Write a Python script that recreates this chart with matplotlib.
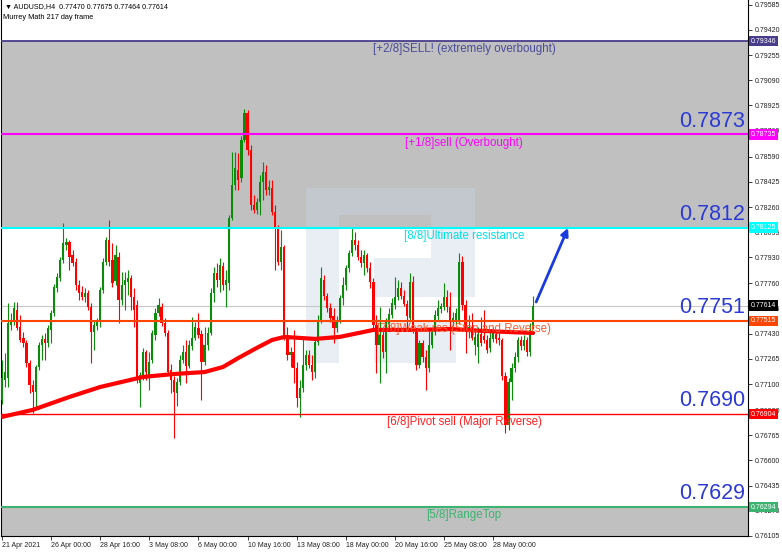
import matplotlib
matplotlib.use('Agg')
import matplotlib.pyplot as plt
import matplotlib.transforms as mtransforms
from matplotlib.patches import Rectangle
import numpy as np

plt.rcParams['font.family'] = ['Liberation Sans', 'DejaVu Sans']

symbol_info = 'AUDUSD,H4  0.77470 0.77675 0.77464 0.77614'
indicator_name = 'Murrey Math 217 day frame'

# AUDUSD H4 candles, 21 Apr 2021 .. 1 Jun 2021
opens = [
    0.76996, 0.77127, 0.77140, 0.77487, 0.77520, 0.77586, 0.77474, 0.77402, 0.77369, 0.77238,
    0.77094, 0.77048, 0.77212, 0.77356, 0.77396, 0.77369, 0.77455, 0.77566, 0.77730, 0.77795,
    0.77913, 0.78011, 0.78031, 0.77946, 0.77900, 0.77749, 0.77703, 0.77671, 0.77697, 0.77605,
    0.77441, 0.77481, 0.77507, 0.77717, 0.77900, 0.78044, 0.77913, 0.77775, 0.77933, 0.77651,
    0.77749, 0.77769, 0.77795, 0.77671, 0.77618, 0.77107, 0.77147, 0.77310, 0.77153, 0.77258,
    0.77422, 0.77566, 0.77605, 0.77500, 0.77435, 0.77193, 0.77127, 0.77042, 0.77114, 0.77258,
    0.77310, 0.77219, 0.77350, 0.77402, 0.77468, 0.77428, 0.77245, 0.77356, 0.77435, 0.77697,
    0.77828, 0.77782, 0.77874, 0.77749, 0.77762, 0.78188, 0.78404, 0.78503, 0.78450, 0.78699,
    0.78876, 0.78634, 0.78273, 0.78241, 0.78293, 0.78424, 0.78489, 0.78372, 0.78385, 0.78227,
    0.78123, 0.77900, 0.77998, 0.77422, 0.77291, 0.77310, 0.77206, 0.77009, 0.77075, 0.77225,
    0.77291, 0.77225, 0.77179, 0.77376, 0.77520, 0.77782, 0.77677, 0.77599, 0.77546, 0.77468,
    0.77520, 0.77664, 0.77749, 0.77861, 0.77959, 0.78044, 0.78011, 0.77933, 0.77893, 0.77946,
    0.77861, 0.77769, 0.77487, 0.77356, 0.77422, 0.77310, 0.77494, 0.77553, 0.77618, 0.77671,
    0.77730, 0.77677, 0.77625, 0.77533, 0.77769, 0.77455, 0.77225, 0.77369, 0.77278, 0.77206,
    0.77356, 0.77441, 0.77546, 0.77592, 0.77605, 0.77671, 0.77605, 0.77520, 0.77520, 0.77520,
    0.77900, 0.77618, 0.77441, 0.77474, 0.77356, 0.77343, 0.77428, 0.77415, 0.77389, 0.77337,
    0.77396, 0.77428, 0.77402, 0.77389, 0.77153, 0.76832, 0.77114, 0.77206, 0.77278, 0.77389,
    0.77350, 0.77389, 0.77310, 0.77470,
]
highs = [
    0.77258, 0.77304, 0.77631, 0.77566, 0.77638, 0.77638, 0.77553, 0.77441, 0.77389, 0.77258,
    0.77127, 0.77225, 0.77376, 0.77422, 0.77435, 0.77487, 0.77586, 0.77756, 0.77828, 0.77933,
    0.78155, 0.78057, 0.78044, 0.77979, 0.77926, 0.77782, 0.77743, 0.77730, 0.77717, 0.77631,
    0.77520, 0.77533, 0.77736, 0.77926, 0.78064, 0.78175, 0.78024, 0.78011, 0.77965, 0.77834,
    0.77834, 0.77848, 0.77815, 0.77730, 0.77651, 0.77179, 0.77337, 0.77324, 0.77310, 0.77455,
    0.77599, 0.77664, 0.77631, 0.77533, 0.77455, 0.77232, 0.77153, 0.77140, 0.77291, 0.77356,
    0.77389, 0.77389, 0.77540, 0.77507, 0.77566, 0.77455, 0.77474, 0.77474, 0.77730, 0.77867,
    0.77893, 0.77926, 0.77900, 0.77848, 0.78208, 0.78620, 0.78620, 0.78614, 0.78725, 0.78902,
    0.78896, 0.78666, 0.78339, 0.78319, 0.78470, 0.78555, 0.78535, 0.78437, 0.78437, 0.78273,
    0.78142, 0.78110, 0.78011, 0.77474, 0.77343, 0.77455, 0.77245, 0.77127, 0.77409, 0.77324,
    0.77324, 0.77291, 0.77402, 0.77553, 0.77867, 0.77815, 0.77697, 0.77631, 0.77599, 0.77546,
    0.77684, 0.77802, 0.77880, 0.77979, 0.78129, 0.78096, 0.78044, 0.77979, 0.77979, 0.77959,
    0.77900, 0.77795, 0.77553, 0.77605, 0.77455, 0.77533, 0.77599, 0.77664, 0.77802, 0.77782,
    0.77769, 0.77717, 0.77651, 0.77828, 0.77808, 0.77468, 0.77389, 0.77389, 0.77324, 0.77455,
    0.77468, 0.77586, 0.77651, 0.77631, 0.77762, 0.77717, 0.77703, 0.77572, 0.77599, 0.77959,
    0.77939, 0.77651, 0.77553, 0.77566, 0.77455, 0.77474, 0.77540, 0.77586, 0.77422, 0.77441,
    0.77474, 0.77455, 0.77435, 0.77402, 0.77179, 0.77140, 0.77238, 0.77310, 0.77409, 0.77415,
    0.77422, 0.77409, 0.77500, 0.77675,
]
lows = [
    0.76970, 0.77081, 0.77081, 0.77455, 0.77487, 0.77455, 0.77376, 0.77343, 0.77212, 0.77042,
    0.76911, 0.76944, 0.77193, 0.77258, 0.77258, 0.77343, 0.77369, 0.77546, 0.77703, 0.77775,
    0.77893, 0.77979, 0.77848, 0.77874, 0.77717, 0.77651, 0.77651, 0.77638, 0.77586, 0.77238,
    0.77324, 0.77455, 0.77474, 0.77697, 0.77880, 0.77874, 0.77736, 0.77749, 0.77500, 0.77618,
    0.77586, 0.77684, 0.77586, 0.77474, 0.77107, 0.76950, 0.77127, 0.77127, 0.77062, 0.77238,
    0.77389, 0.77546, 0.77481, 0.77415, 0.77160, 0.77042, 0.76747, 0.76957, 0.77094, 0.77238,
    0.77107, 0.77206, 0.77324, 0.77389, 0.77402, 0.76996, 0.77225, 0.77324, 0.77422, 0.77638,
    0.77736, 0.77703, 0.77717, 0.77605, 0.77717, 0.78175, 0.78372, 0.78372, 0.78424, 0.78686,
    0.78601, 0.78241, 0.78221, 0.78214, 0.78208, 0.78306, 0.78339, 0.78339, 0.78208, 0.77848,
    0.77880, 0.77848, 0.77389, 0.77258, 0.77212, 0.77107, 0.76950, 0.76885, 0.77048, 0.77193,
    0.77206, 0.77127, 0.77140, 0.77356, 0.77500, 0.77651, 0.77572, 0.77507, 0.77369, 0.77441,
    0.77500, 0.77618, 0.77717, 0.77834, 0.77939, 0.77979, 0.77913, 0.77867, 0.77815, 0.77834,
    0.77730, 0.77455, 0.77173, 0.77107, 0.77271, 0.77173, 0.77455, 0.77533, 0.77592, 0.77651,
    0.77658, 0.77612, 0.77455, 0.77507, 0.77435, 0.77193, 0.77206, 0.77245, 0.77062, 0.77179,
    0.77337, 0.77422, 0.77520, 0.77566, 0.77586, 0.77572, 0.77324, 0.77481, 0.77487, 0.77494,
    0.77586, 0.77304, 0.77402, 0.77389, 0.77291, 0.77238, 0.77350, 0.77369, 0.77304, 0.77310,
    0.77376, 0.77369, 0.77356, 0.77127, 0.76780, 0.76800, 0.76996, 0.77179, 0.77245, 0.77324,
    0.77324, 0.77284, 0.77284, 0.77464,
]
closes = [
    0.77140, 0.77179, 0.77500, 0.77520, 0.77599, 0.77468, 0.77389, 0.77369, 0.77238, 0.77094,
    0.77048, 0.77212, 0.77356, 0.77396, 0.77369, 0.77468, 0.77566, 0.77736, 0.77802, 0.77913,
    0.78024, 0.78031, 0.77933, 0.77893, 0.77749, 0.77697, 0.77671, 0.77697, 0.77605, 0.77441,
    0.77487, 0.77507, 0.77717, 0.77900, 0.78044, 0.77900, 0.77762, 0.77946, 0.77651, 0.77749,
    0.77782, 0.77795, 0.77671, 0.77586, 0.77127, 0.77160, 0.77310, 0.77179, 0.77245, 0.77435,
    0.77566, 0.77618, 0.77500, 0.77435, 0.77179, 0.77127, 0.77048, 0.77114, 0.77258, 0.77310,
    0.77219, 0.77356, 0.77402, 0.77474, 0.77422, 0.77245, 0.77356, 0.77435, 0.77697, 0.77828,
    0.77782, 0.77880, 0.77749, 0.77782, 0.78188, 0.78404, 0.78516, 0.78437, 0.78699, 0.78876,
    0.78634, 0.78273, 0.78241, 0.78293, 0.78424, 0.78489, 0.78372, 0.78391, 0.78227, 0.78123,
    0.77900, 0.77998, 0.77422, 0.77291, 0.77310, 0.77206, 0.77009, 0.77075, 0.77225, 0.77291,
    0.77225, 0.77179, 0.77376, 0.77520, 0.77795, 0.77677, 0.77599, 0.77533, 0.77468, 0.77520,
    0.77664, 0.77749, 0.77861, 0.77959, 0.78044, 0.78011, 0.77933, 0.77893, 0.77946, 0.77861,
    0.77769, 0.77487, 0.77356, 0.77422, 0.77310, 0.77507, 0.77559, 0.77631, 0.77671, 0.77730,
    0.77677, 0.77625, 0.77546, 0.77769, 0.77455, 0.77225, 0.77369, 0.77278, 0.77206, 0.77356,
    0.77441, 0.77553, 0.77599, 0.77612, 0.77671, 0.77605, 0.77520, 0.77533, 0.77566, 0.77900,
    0.77618, 0.77455, 0.77474, 0.77402, 0.77409, 0.77428, 0.77369, 0.77389, 0.77324, 0.77402,
    0.77435, 0.77396, 0.77389, 0.77153, 0.76832, 0.77114, 0.77206, 0.77278, 0.77389, 0.77350,
    0.77389, 0.77310, 0.77455, 0.77614,
]

# moving average (thick red line), sampled at bar numbers
ma_bars = [0, 10, 22, 32, 46, 56, 66, 72, 77, 83, 88, 92, 102, 110, 121, 136, 146, 157, 165, 173]
ma_values = [0.76885, 0.76931, 0.77016, 0.77081, 0.77147, 0.77166, 0.77179, 0.77212, 0.77271,
             0.77337, 0.77389, 0.77409, 0.77396, 0.77409, 0.77455, 0.77455, 0.77461, 0.77448,
             0.77441, 0.77435]

date_ticks = [0, 16, 32, 48, 64, 80, 96, 112, 128, 144, 160]
date_labels = ['21 Apr 2021', '26 Apr 00:00', '28 Apr 16:00', '3 May 08:00', '6 May 00:00',
               '10 May 16:00', '13 May 08:00', '18 May 00:00', '20 May 16:00', '25 May 08:00',
               '28 May 00:00']

price_ticks = [0.79585, 0.79420, 0.79255, 0.79090, 0.78925, 0.78760, 0.78590, 0.78425, 0.78260,
               0.78095, 0.77930, 0.77760, 0.77595, 0.77430, 0.77265, 0.77100, 0.76930, 0.76765,
               0.76600, 0.76435, 0.76270, 0.76105]

level_prices = [0.79346, 0.78735, 0.78125, 0.77515, 0.76904, 0.76294]
level_names = ['[+2/8]SELL! (extremely overbought)', '[+1/8]sell (Overbought)',
               '[8/8]Ultimate resistance', '[7/8]Weak res (Stop and Reverse)',
               '[6/8]Pivot sell (Major Reverse)', '[5/8]RangeTop']
level_colors = ['#483d8b', '#ff00ff', '#00ffff', '#ff4500', '#ff0000', '#3cb371']
level_text_colors = ['#4b4b9b', '#ff00ff', '#00e0f0', '#ff5a2a', '#ff2020', '#3cb371']
level_lw = [1.3, 1.5, 1.5, 1.5, 1.0, 1.5]
big_labels = ['', '0.7873', '0.7812', '0.7751', '0.7690', '0.7629']

last_price = 0.77614
arrow_from = (174.0, 0.77638)
arrow_to = (184.4, 0.78123)

y_bottom, y_top = 0.76105, 0.79616


def draw_candles(ax):
    x = np.arange(len(closes))
    o = np.array(opens)
    h = np.array(highs)
    l = np.array(lows)
    c = np.array(closes)
    colors = np.where(c >= o, '#0a8c0a', '#ff0000')
    ax.vlines(x, l, h, colors=colors, lw=0.8, zorder=4)
    body = np.maximum(np.abs(c - o), 0.00005)
    ax.bar(x, body, bottom=np.minimum(o, c), width=0.72, color=colors, lw=0, zorder=4)


def draw_watermark(ax):
    wm = dict(facecolor='#c8d4e4', edgecolor='none', alpha=0.4, transform=ax.transAxes, zorder=1)
    ax.add_patch(Rectangle((0.408, 0.323), 0.044, 0.326, **wm))
    ax.add_patch(Rectangle((0.452, 0.599), 0.123, 0.050, **wm))
    ax.add_patch(Rectangle((0.575, 0.446), 0.060, 0.203, **wm))
    ax.add_patch(Rectangle((0.499, 0.446), 0.076, 0.073, **wm))
    ax.add_patch(Rectangle((0.499, 0.323), 0.110, 0.080, **wm))


fig = plt.figure(figsize=(7.82, 5.53), dpi=100)
ax = fig.add_axes([1 / 782, 17 / 553, 747 / 782, 536 / 553])
ax.set_facecolor('white')
ax.set_xlim(-0.3, 243.0)
ax.set_ylim(y_bottom, y_top)

ax.axhspan(level_prices[2], level_prices[0], color='#c0c0c0', lw=0, zorder=0)
ax.axhspan(0.75, level_prices[5], color='#c0c0c0', lw=0, zorder=0)
draw_watermark(ax)

ax.axhline(last_price, color='#c8c8c8', lw=0.8, zorder=2)

draw_candles(ax)

blend = mtransforms.blended_transform_factory(ax.transAxes, ax.transData)
for i, price in enumerate(level_prices):
    ax.axhline(price, color=level_colors[i], lw=level_lw[i], zorder=5)
    ax.annotate(level_names[i], xy=(0.62, price), xycoords=blend, xytext=(0, -1.5),
                textcoords='offset points', ha='center', va='top', fontsize=8.3,
                color=level_text_colors[i], zorder=7)
    if big_labels[i]:
        ax.annotate(big_labels[i], xy=(0.996, price), xycoords=blend, xytext=(0, 2),
                    textcoords='offset points', ha='right', va='bottom', fontsize=15.5,
                    color='#2b3ad6', zorder=7)

ax.plot(ma_bars, ma_values, color='#ff0000', lw=3, solid_capstyle='round',
        solid_joinstyle='round', zorder=6)

ax.annotate('', xy=arrow_to, xytext=arrow_from,
            arrowprops=dict(arrowstyle='-|>', color='#1a3be0', lw=2, mutation_scale=11,
                            shrinkA=0, shrinkB=0), zorder=8)

# price axis on the right
ax.yaxis.tick_right()
ax.set_yticks(price_ticks)
ax.set_yticklabels(['%.5f' % p for p in price_ticks])
ax.tick_params(axis='y', length=3, width=0.6, labelsize=5, pad=2, colors='#222222')
ax.set_xticks(date_ticks, labels=date_labels, ha='left')
ax.tick_params(axis='x', length=3, width=0.6, labelsize=5, pad=1.5, colors='#222222')

for price, col in zip(level_prices + [last_price], level_colors + ['#000000']):
    ax.text(1.004, price, '%.5f' % price, transform=blend, ha='left', va='center',
            fontsize=5, color='white', clip_on=False, zorder=10,
            bbox=dict(boxstyle='square,pad=0.25', fc=col, ec='none'))

ax.spines['top'].set_visible(False)
for side in ['left', 'right', 'bottom']:
    ax.spines[side].set_color('#000000')
    ax.spines[side].set_linewidth(0.8)

fig.text(0.006, 0.994, '\u25bc ' + symbol_info, fontsize=5.1, va='top', ha='left')
fig.text(0.004, 0.975, indicator_name, fontsize=5.3, va='top', ha='left')

fig.savefig('out.png', dpi=100)
